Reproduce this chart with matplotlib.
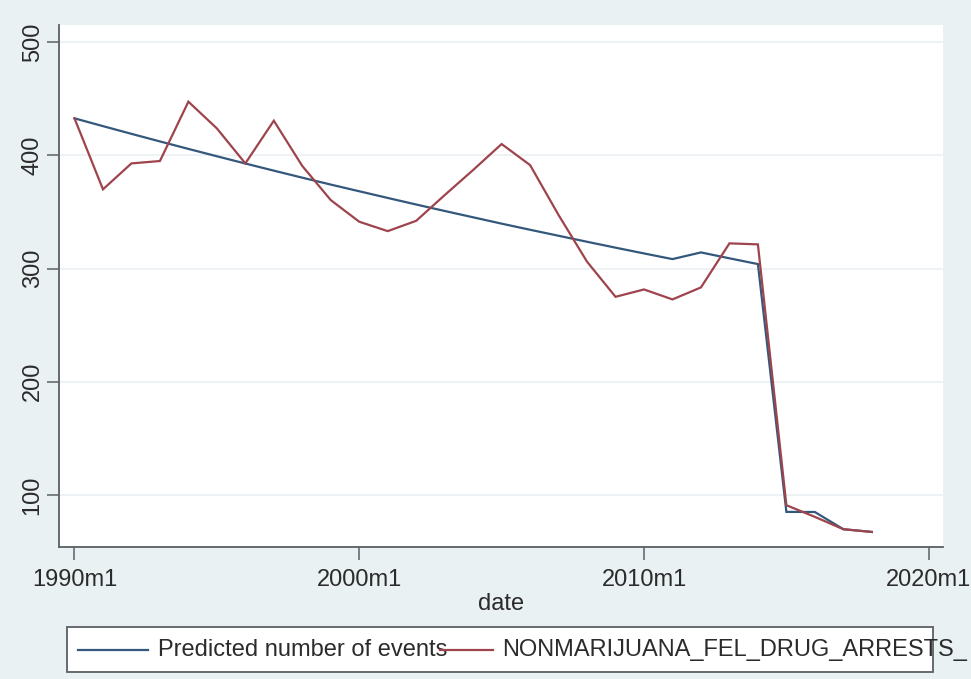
import matplotlib
matplotlib.use("Agg")
import matplotlib.pyplot as plt
from matplotlib.lines import Line2D
from matplotlib.patches import Rectangle

plt.rcParams['font.family'] = ['Liberation Sans', 'DejaVu Sans']

# Annual observations, 1990 through 2018 (Stata monthly date labels)
years = list(range(1990, 2019))
predicted = [432.6, 425.7, 418.9, 412.2, 405.6, 399.1, 392.7, 386.4, 380.2, 374.1,
             368.2, 362.3, 356.5, 350.8, 345.2, 339.6, 334.2, 328.9, 323.6, 318.4,
             313.3, 308.3, 314.2, 309.0, 303.9, 85.1, 85.0, 69.8, 67.4]
arrests = [432.6, 369.9, 392.8, 394.9, 447.3, 423.7, 392.8, 430.5, 390.5, 360.4,
           341.3, 333.0, 342.1, 364.8, 387.0, 409.9, 391.3, 347.2, 306.0, 275.0,
           281.5, 272.7, 283.3, 322.2, 321.3, 91.0, 80.7, 69.8, 67.4]

xtick_years = [1990, 2000, 2010, 2020]
xtick_labels = ["1990m1", "2000m1", "2010m1", "2020m1"]
ytick_values = [100, 200, 300, 400, 500]

series_labels = ["Predicted number of events", "NONMARIJUANA_FEL_DRUG_ARRESTS_"]
series_colors = ["#34587c", "#9e444c"]

bg = "#eaf1f3"
axis_gray = "#5a5f63"
text_color = "#2b2b2b"
fs = 17

W, H = 971, 679
fig = plt.figure(figsize=(W / 100, H / 100), dpi=100, facecolor=bg)
ax = fig.add_axes([59 / W, 1 - 547 / H, (943 - 59) / W, (547 - 25) / H])
ax.set_facecolor("white")

ax.plot(years, predicted, color=series_colors[0], lw=1.6, solid_joinstyle="miter")
ax.plot(years, arrests, color=series_colors[1], lw=1.6, solid_joinstyle="miter")

ax.set_xlim(1989.456, 2020.5)
ax.set_ylim(54.1, 515)

ax.set_xticks(xtick_years)
ax.set_xticklabels(xtick_labels)
ax.set_yticks(ytick_values)
ax.set_yticklabels([str(v) for v in ytick_values], rotation=90, va="center")

ax.grid(axis="y", color=bg, lw=1.2)
ax.set_axisbelow(True)
for side in ("top", "right"):
    ax.spines[side].set_visible(False)
for side in ("left", "bottom"):
    ax.spines[side].set_color(axis_gray)
    ax.spines[side].set_linewidth(1.3)

ax.tick_params(axis="both", length=9, width=1.1, color=axis_gray,
               labelsize=fs, labelcolor=text_color)
ax.tick_params(axis="x", pad=7)
ax.tick_params(axis="y", pad=2)

ax.set_xlabel("date", fontsize=fs, color=text_color, labelpad=1)

# Legend box along the bottom of the figure
def fx(px):
    return px / W

def fy(py):
    return 1 - py / H

box = Rectangle((fx(67), fy(672)), fx(933) - fx(67), fy(627) - fy(672),
                transform=fig.transFigure, facecolor="white",
                edgecolor=axis_gray, lw=1.3, zorder=1)
fig.patches.append(box)

legend_y = fy(650)
fig.add_artist(Line2D([fx(78), fx(148)], [legend_y, legend_y],
                      transform=fig.transFigure, color=series_colors[0], lw=1.6, zorder=3))
fig.text(fx(158), legend_y, series_labels[0], fontsize=fs, color=text_color,
         va="center", ha="left", zorder=2)
fig.add_artist(Line2D([fx(440), fx(493)], [legend_y, legend_y],
                      transform=fig.transFigure, color=series_colors[1], lw=1.6, zorder=3))
fig.text(fx(502), legend_y, series_labels[1], fontsize=fs, color=text_color,
         va="center", ha="left", zorder=2)

fig.savefig("out.png", dpi=100, facecolor=bg)
